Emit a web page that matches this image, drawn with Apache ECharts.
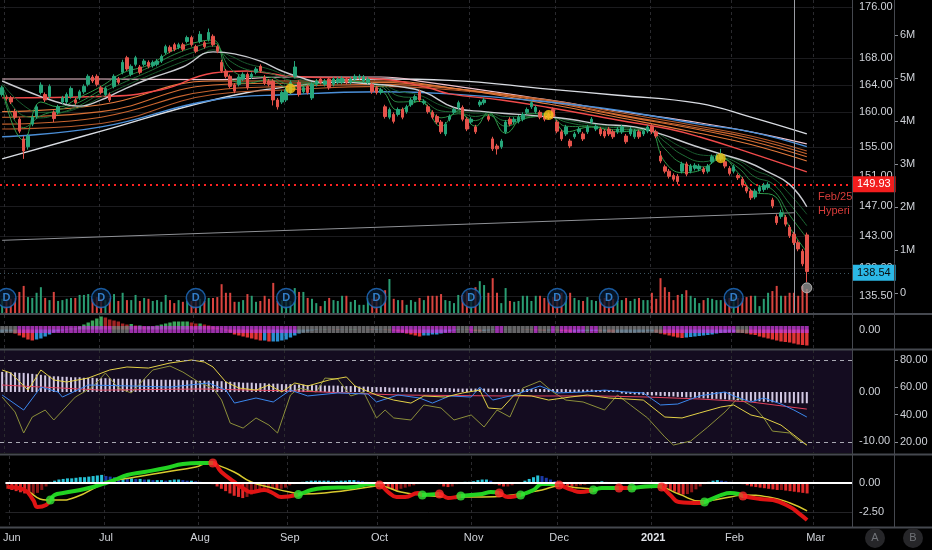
<!DOCTYPE html>
<html><head><meta charset="utf-8">
<script src="https://cdn.jsdelivr.net/npm/echarts@6/dist/echarts.min.js"></script>
<style>html,body{margin:0;padding:0;background:#000;}#c{width:932px;height:550px;}</style>
</head><body><div id="c"></div>
<script>
// ---------------- DATA ----------------
const holidays = ['2020-07-03','2020-09-07','2020-11-26','2020-12-25','2021-01-01','2021-01-18','2021-02-15'];
const firstDate = '2020-05-29';
const futureSlots = 10;

// [open, close, low, high]
const candles = [
[162.6,163.6,162.3,163.9],[162.2,162.0,161.7,162.5],[162.1,161.5,161.2,162.4],[160.1,159.3,159.0,160.5],[159.0,157.3,157.0,159.3],
[156.2,154.5,153.4,156.6],[155.1,156.6,154.7,156.9],[158.3,159.3,158.0,159.6],[159.4,160.8,159.1,161.1],[162.9,164.0,162.6,164.4],
[162.6,161.8,161.5,162.9],[162.3,163.8,162.0,164.1],[160.0,159.1,158.6,160.3],[160.0,160.8,159.7,161.1],[161.5,162.1,161.2,162.4],
[161.5,162.6,161.2,162.9],[162.3,163.5,162.0,163.8],[161.8,161.4,161.1,162.1],[162.1,163.0,161.8,163.3],[163.0,163.8,162.7,164.1],
[164.1,165.3,163.8,165.6],[165.2,164.6,164.3,165.5],[165.3,164.1,163.8,165.6],[163.6,162.9,162.6,163.9],[162.6,163.5,162.3,163.8],
[162.6,161.8,161.5,162.9],[163.8,165.3,163.5,165.6],[164.9,164.4,164.1,165.2],[165.9,167.4,165.6,167.8],[168.1,166.4,166.1,168.4],
[165.6,166.8,165.3,167.1],[167.1,168.1,166.8,168.4],[166.7,165.9,165.6,167.0],[167.1,167.6,166.8,167.9],[167.4,166.8,166.5,167.7],
[166.9,167.4,166.6,167.7],[167.1,167.6,166.8,167.9],[167.6,168.3,167.3,168.6],[168.9,169.8,168.6,170.1],[169.7,169.1,168.8,170.0],
[170.1,169.4,169.1,170.4],[169.7,170.1,169.4,170.4],[170.1,169.4,169.1,170.4],[170.6,171.2,170.3,171.5],[171.2,170.1,169.8,171.5],
[169.8,169.1,168.8,170.1],[170.6,171.7,170.3,172.2],[170.4,169.8,169.5,170.7],[170.9,172.0,170.6,172.6],[171.4,170.1,169.8,171.7],
[169.8,169.1,168.8,170.1],[167.4,166.1,165.8,167.8],[166.1,165.3,165.0,166.4],[165.3,163.8,163.5,165.6],[164.0,163.1,162.8,164.3],
[164.1,165.2,163.8,165.5],[164.9,165.6,164.6,165.9],[165.6,163.6,163.3,165.9],[165.2,165.6,164.9,165.9],[165.9,166.4,165.6,166.7],
[166.8,166.1,165.8,167.1],[165.2,164.3,164.0,165.5],[164.6,164.1,163.8,164.9],[164.6,161.8,161.0,164.9],[161.8,160.8,160.4,162.1],
[161.5,162.9,161.2,163.2],[161.8,163.3,161.5,163.6],[162.9,164.4,162.6,164.7],[165.3,166.7,165.0,167.6],[164.4,162.6,162.3,164.7],
[163.0,163.6,162.7,163.9],[163.8,162.9,162.6,164.1],[162.1,164.1,161.8,164.4],[164.1,164.6,163.8,164.9],[164.9,164.4,164.1,165.2],
[164.1,164.6,163.8,164.9],[164.9,163.6,163.3,165.2],[164.1,164.9,163.8,165.2],[164.4,164.9,164.1,165.2],[164.4,165.0,164.1,165.3],
[164.9,164.4,164.1,165.2],[164.4,164.9,164.1,165.2],[164.9,165.3,164.6,165.6],[165.1,165.3,164.8,165.6],[164.6,165.2,164.3,165.5],
[164.4,164.9,164.1,165.2],[164.1,163.0,162.7,164.4],[163.6,162.9,162.6,163.9],[162.9,163.3,162.6,163.6],[160.8,159.4,159.1,161.1],
[159.3,160.4,159.0,160.7],[159.7,158.7,158.4,160.0],[159.7,160.4,159.4,160.7],[160.4,159.3,159.0,160.7],[160.1,160.8,159.8,161.1],
[161.1,161.8,160.8,162.1],[161.8,162.3,161.5,162.6],[163.0,161.8,161.5,163.3],[161.4,161.6,161.1,161.9],[160.8,160.1,159.8,161.1],
[160.0,159.3,159.0,160.3],[159.4,158.6,158.3,159.7],[158.6,157.2,156.9,158.9],[156.9,158.3,156.6,158.6],[159.0,159.4,158.7,159.7],
[160.0,160.4,159.7,160.7],[160.7,161.4,160.4,161.7],[160.7,159.0,158.7,161.0],[159.0,157.6,157.3,159.3],[158.6,159.0,158.3,159.3],
[157.9,157.2,156.9,158.2],[161.1,161.5,160.8,161.8],[161.4,161.8,161.1,162.1],[159.4,159.0,158.7,159.7],[156.2,154.8,154.5,156.5],
[155.2,154.8,154.0,155.5],[155.1,155.9,154.8,156.2],[157.2,158.6,156.9,158.9],[159.0,158.3,158.0,159.3],[158.6,159.0,158.3,159.3],
[158.7,159.3,158.4,159.6],[159.0,159.7,158.7,160.0],[160.0,160.4,159.7,160.7],[160.8,161.4,160.5,161.7],[160.1,160.7,159.8,161.0],
[160.0,159.3,159.0,160.3],[159.4,159.0,158.7,159.7],[159.7,159.3,159.0,160.0],[160.4,159.4,159.1,160.7],[158.6,157.3,157.0,158.9],
[157.2,156.2,155.9,157.5],[156.9,157.9,156.6,158.2],[155.9,155.2,154.9,156.2],[156.5,156.9,156.2,157.2],[157.2,157.6,156.9,157.9],
[156.9,156.2,155.9,157.2],[157.2,157.9,156.9,158.2],[158.6,159.0,158.3,159.3],[157.6,158.0,157.3,158.3],[157.6,156.9,156.6,157.9],
[157.3,156.6,156.3,157.6],[157.6,156.9,156.6,157.9],[157.2,156.5,156.2,157.5],[157.2,157.6,156.9,157.9],[157.2,157.9,156.9,158.2],
[156.6,155.8,155.5,156.9],[156.9,157.6,156.6,157.9],[156.5,157.3,156.2,157.6],[157.2,156.5,156.2,157.5],[156.9,157.3,156.6,157.6],
[157.3,157.9,157.0,158.2],[158.0,157.2,156.9,158.3],[157.2,156.6,156.3,157.5],[153.8,153.1,152.8,154.5],[152.3,151.7,151.4,152.6],
[151.7,151.0,150.7,152.0],[151.1,150.6,150.3,151.4],[151.0,150.3,149.9,151.3],[151.7,152.7,151.4,153.0],[152.7,151.3,151.0,153.0],
[151.7,152.4,151.4,152.7],[152.1,152.5,151.8,152.8],[152.0,152.4,151.7,152.7],[152.0,151.6,151.3,152.3],[151.7,152.4,151.4,152.7],
[153.0,153.7,152.7,154.0],[153.4,153.8,153.1,154.1],[153.4,154.0,153.1,154.8],[153.0,152.4,152.1,153.3],[152.1,151.4,151.1,152.4],
[151.7,152.3,151.4,152.6],[151.1,150.8,150.5,151.4],[150.6,149.8,149.5,150.9],[149.5,149.0,148.7,149.8],[149.0,148.1,147.8,149.3],
[148.2,149.0,147.9,149.3],[149.0,149.5,148.7,149.8],[149.2,149.8,148.9,150.1],[149.5,149.9,149.2,150.2],[147.8,147.0,146.7,148.1],
[145.6,144.8,144.5,145.9],[145.6,146.1,145.3,146.5],[145.5,144.6,144.3,145.8],[144.2,143.1,142.8,144.5],[143.3,142.2,141.9,143.6],
[142.2,141.4,141.1,142.5],[141.1,139.5,139.2,141.4],[143.2,138.54,137.2,143.5]
];

// volume, millions of shares
const volumeM = [
.33,.28,.33,.35,.49,.63,.37,.35,.47,.60, .35,.30,.49,.28,.30,.33,.35,.35,.42,.42,
.44,.33,.37,.33,.30,.35,.44,.28,.47,.30, .30,.42,.28,.35,.33,.28,.30,.26,.42,.30,
.23,.30,.26,.28,.28,.30,.33,.28,.35,.35, .37,.67,.47,.47,.26,.26,.30,.44,.40,.26,
.28,.40,.33,.70,.28,.30,.33,.28,.58,.49, .49,.35,.33,.23,.16,.28,.35,.30,.28,.40,
.40,.26,.30,.19,.19,.35,.33,.37,.42,.53, .79,.33,.30,.30,.19,.30,.26,.35,.30,.40,
.40,.40,.44,.30,.28,.23,.42,.42,.51,.47, .60,.74,.65,.47,.81,.47,.23,.58,.28,.26,
.28,.40,.40,.28,.40,.40,.35,.33,.37,.42, .47,.40,.47,.35,.30,.28,.37,.30,.28,.33,
.35,.30,.33,.28,.30,.35,.28,.33,.35,.30, .30,.47,.33,.81,.60,.49,.30,.42,.44,.53,
.40,.35,.23,.30,.35,.33,.30,.30,.33,.35, .37,.35,.35,.37,.40,.40,.16,.33,.47,.51,
.63,.40,.40,.47,.47,.40,.63,.56
];

const priceTicks = [176, 168, 164, 160, 155, 151, 147, 143, 139, 135.5];
const volumeTicksM = [0, 1, 2, 3, 4, 5, 6];
const refLevel = 149.93;
const lastClose = 138.54;
const crosshairIndex = 184;
const trendLine = [[0, 142.5], [184, 146.1]];
const signalDots = [[67, 163.5], [127, 159.6], [167, 153.5]];
const lastMarker = [187, 136.5];
const dividendIdx = [1, 23, 45, 66, 87, 109, 129, 141, 170];
const noteLines = ['Feb/25', 'Hyperinflation'];

// moving averages [index, price]
const maSlowWhite = [[0,153.4],[23,157.3],[49,161.8],[67,163.8],[88,164.9],[104,164.7],[127,163.4],[143,162.5],[162,161.3],[174,159.3],[187,156.9]];
const maPink = [[0,164.9],[23,164.9],[49,164.8],[67,165.2],[88,165.2],[99,164.4],[127,161.8],[143,160.2],[162,158.5],[174,157.2],[187,155.5]];
const maBlue = [[0,156.5],[23,157.9],[49,161.8],[67,162.6],[88,163.0],[104,162.7],[127,161.5],[143,160.3],[162,158.3],[174,157.2],[187,155.1]];
const maRed = [[0,162.1],[23,162.3],[37,163.3],[49,165.8],[57,166.1],[67,165.3],[88,164.9],[99,163.6],[104,162.7],[116,161.8],[127,160.7],[143,158.9],[155,157.6],[162,156.5],[174,154.2],[187,151.6]];
const maOrange1 = [[0,160.1],[23,161.1],[49,164.6],[67,164.6],[88,164.6],[104,163.6],[127,161.2],[143,159.3],[162,157.0],[174,155.4],[187,153.1]];
const maOrange2 = [[0,159.3],[23,160.1],[49,164.0],[67,164.3],[88,164.4],[104,163.6],[127,161.5],[143,159.6],[162,157.5],[174,155.9],[187,153.7]];
const maOrange3 = [[0,158.3],[23,159.3],[49,163.2],[67,163.8],[88,164.1],[104,163.5],[127,161.7],[143,159.7],[162,157.7],[174,156.3],[187,154.1]];
const maOrange4 = [[0,157.6],[23,158.4],[49,162.6],[67,163.3],[88,163.8],[104,163.3],[127,161.8],[143,160.0],[162,158.0],[174,156.6],[187,154.5]];
const maWhiteFast = [[0,164.6],[9,162.3],[15,161.1],[18,160.9],[23,161.8],[27,163.0],[34,164.9],[42,166.7],[49,169.0],[54,168.7],[60,167.6],[65,166.1],[69,165.2],[74,164.4],[79,164.4],[87,164.1],[92,163.8],[98,163.0],[105,160.7],[112,160.1],[120,159.7],[126,159.4],[132,159.0],[139,158.3],[147,157.9],[153,156.9],[161,155.2],[167,154.1],[173,153.0],[178,151.6],[183,149.9],[187,146.9]];
const ribbonIdx = [0,5,9,13,18,23,28,34,40,46,49,53,57,62,67,72,80,88,92,97,102,106,110,113,117,122,127,131,137,143,150,154,158,163,167,171,175,179,183,187];
const green1 = [163.4,156.0,161.5,160.8,162.2,163.8,165.8,167.0,169.3,170.6,170.8,165.0,164.3,164.8,163.5,164.1,164.6,163.3,160.3,161.6,158.0,160.2,158.0,160.0,157.0,159.8,159.8,157.2,157.9,157.2,157.5,153.0,151.5,152.0,153.6,151.5,148.8,148.5,144.2,141.0];
const green2 = [163.6,157.8,159.5,160.3,161.5,163.3,165.0,166.6,168.6,170.0,170.4,166.5,165.3,165.2,164.1,164.2,164.5,163.8,161.5,161.6,159.2,159.8,158.8,159.6,158.0,159.2,159.7,158.0,157.9,157.5,157.5,154.8,152.8,152.3,153.4,152.2,149.9,149.2,145.8,142.8];
const green3 = [163.9,159.5,159.2,159.8,161.0,162.8,164.3,166.0,167.8,169.3,169.9,167.6,166.3,165.8,164.7,164.4,164.5,164.0,162.4,162.0,160.2,160.0,159.4,159.7,158.8,159.2,159.5,158.6,158.0,157.8,157.6,155.8,154.0,153.0,153.5,152.8,150.9,150.0,147.3,144.4];
const green4 = [164.2,161.0,160.0,160.0,160.7,162.2,163.7,165.4,167.0,168.5,169.3,168.4,167.2,166.4,165.2,164.6,164.4,164.1,163.1,162.5,161.0,160.3,159.9,159.9,159.4,159.4,159.4,158.9,158.3,158.0,157.7,156.4,155.0,153.9,153.8,153.2,151.8,150.8,148.6,145.9];

// squeeze momentum
const squeezeMom = [
-0.3,-0.2,-0.2,-0.4,-0.6,-0.8,-1.0,-1.1,-1.0,-0.9,
-0.7,-0.5,-0.3,-0.2,-0.1,0.05,0.1,0.1,0.3,0.5,
0.7,0.9,1.1,1.3,1.2,1.0,0.9,0.8,0.6,0.5,
0.55,0.4,0.4,0.3,0.3,0.3,0.4,0.5,0.6,0.7,
0.8,0.8,0.8,0.8,0.7,0.6,0.6,0.5,0.4,0.3,
0.2,0.1,-0.1,-0.3,-0.5,-0.6,-0.7,-0.8,-0.9,-1.0,
-1.1,-1.1,-1.2,-1.2,-1.2,-1.1,-1.0,-0.8,-0.6,-0.4,
-0.3,-0.2,-0.1,-0.05,0.03,0.05,0.03,-0.03,-0.05,-0.03,
0.03,0.05,0.05,0.03,0,-0.03,-0.05,-0.05,-0.03,-0.05,
-0.08,-0.1,-0.2,-0.3,-0.4,-0.5,-0.6,-0.7,-0.6,-0.6,
-0.5,-0.5,-0.4,-0.3,-0.2,-0.1,-0.05,-0.03,-0.05,-0.1,
-0.15,-0.2,-0.15,-0.1,-0.05,-0.03,0.02,0.03,0.03,0.02,
0.01,-0.02,-0.04,-0.06,-0.08,-0.1,-0.12,-0.1,-0.08,-0.1,
-0.15,-0.2,-0.25,-0.25,-0.2,-0.2,-0.15,-0.15,-0.15,-0.2,
-0.2,-0.25,-0.3,-0.3,-0.3,-0.3,-0.3,-0.3,-0.25,-0.25,
-0.2,-0.2,-0.3,-0.4,-0.5,-0.6,-0.7,-0.8,-0.85,-0.8,
-0.75,-0.7,-0.65,-0.6,-0.55,-0.5,-0.4,-0.35,-0.3,-0.25,
-0.25,-0.3,-0.35,-0.4,-0.5,-0.55,-0.7,-0.8,-0.9,-1.0,
-1.1,-1.2,-1.25,-1.3,-1.4,-1.5,-1.55,-1.6
];
// squeeze state runs [from, to, on]
const squeezeRuns = [[0,3,0],[4,25,1],[26,29,0],[30,68,1],[69,90,0],[91,105,1],[106,108,0],[109,109,1],[110,114,0],[115,116,1],[117,123,0],[124,124,1],[125,127,0],[128,128,1],[129,129,0],[130,135,1],[136,136,0],[137,138,1],[139,153,0],[154,170,1],[171,173,0],[174,187,1]];

// oscillator panel
const oscHist = [
4.1,4.1,4.0,4.0,3.9,3.9,3.8,3.7, 3.6,3.5,3.4,3.3,3.2,3.2,3.1,3.1,
3.0,3.0,3.0,2.9,2.9,2.9,2.8,2.8, 2.8,2.8,2.7,2.7,2.7,2.7,2.6,2.6,
2.6,2.6,2.6,2.6,2.5,2.5,2.5,2.5, 2.5,2.5,2.4,2.4,2.4,2.4,2.3,2.3,
2.3,2.3,2.2,2.2,2.1,2.1,2.0,2.0, 1.9,1.9,1.9,1.8,1.8,1.8,1.7,1.7,
1.7,1.6,1.6,1.6,1.5,1.5,1.5,1.4, 1.4,1.4,1.4,1.3,1.3,1.3,1.3,1.2,
1.2,1.2,1.2,1.1,1.1,1.1,1.0,1.0, 1.0,1.0,0.9,0.9,0.9,0.9,0.9,0.8,
0.8,0.8,0.8,0.8,0.8,0.8,0.8,0.8, 0.8,0.7,0.7,0.7,0.7,0.7,0.7,0.7,
0.7,0.7,0.7,0.7,0.7,0.6,0.6,0.6, 0.6,0.6,0.6,0.6,0.6,0.6,0.6,0.6,
0.6,0.6,0.6,0.6,0.5,0.5,0.5,0.5, 0.5,0.5,0.4,0.4,0.4,0.3,0.3,0.3,
-0.3,-0.4,-0.4,-0.5,-0.5,-0.6,-0.6,-0.7, -0.7,-0.8,-0.8,-0.9,-0.9,-1.0,-1.0,-1.1,
-1.1,-1.2,-1.2,-1.3,-1.3,-1.4,-1.4,-1.5, -1.5,-1.6,-1.6,-1.7,-1.7,-1.8,-1.8,-1.9,
-1.9,-2.0,-2.0,-2.1,-2.1,-2.2,-2.2,-2.2, -2.3,-2.3,-2.3,-2.3
];
const oscYellow = [[0,72.7],[2,70.5],[6,58.0],[9,72.7],[12,65.4],[15,63.9],[20,66.8],[25,72.7],[29,74.9],[34,74.1],[39,77.8],[44,80.0],[47,78.5],[49,74.9],[52,63.9],[55,59.5],[59,58.0],[62,61.7],[65,56.6],[68,63.2],[71,61.0],[76,65.4],[80,67.6],[82,61.0],[87,54.4],[91,50.7],[95,48.5],[98,53.7],[103,52.9],[107,55.9],[111,58.0],[113,44.9],[116,44.1],[119,54.4],[123,53.7],[127,50.7],[132,52.9],[136,54.4],[141,52.2],[145,51.5],[149,50.7],[154,38.3],[158,37.6],[162,41.2],[167,45.6],[170,47.1],[174,39.8],[177,37.6],[181,32.4],[184,25.1],[187,17.8]];
const oscBlue = [[0,54.4],[5,43.4],[9,60.2],[13,56.6],[14,52.9],[20,61.7],[30,61.0],[39,60.2],[48,63.2],[52,58.0],[54,48.5],[59,52.2],[63,49.3],[67,58.0],[71,53.7],[78,55.9],[85,55.1],[87,49.3],[92,54.4],[97,52.2],[100,48.5],[104,53.7],[109,52.9],[111,60.2],[114,50.7],[119,54.4],[125,61.0],[129,55.9],[135,56.6],[140,58.0],[145,56.6],[149,55.9],[153,47.1],[157,47.8],[162,53.7],[168,56.6],[170,53.7],[174,49.3],[177,52.2],[181,47.8],[184,43.4],[187,38.3]];
const oscOlive = [[0,52.9],[3,42.0],[5,26.6],[7,38.3],[10,43.4],[12,36.1],[17,52.9],[21,60.2],[24,70.5],[27,59.5],[30,55.9],[35,72.7],[39,75.6],[42,71.2],[46,63.2],[49,59.5],[51,50.7],[53,33.9],[56,30.2],[59,37.6],[62,32.4],[64,26.6],[67,54.4],[69,59.5],[73,56.6],[75,66.8],[78,66.1],[81,53.7],[84,56.6],[87,37.6],[89,43.4],[91,37.6],[95,36.1],[98,47.1],[102,44.9],[105,36.1],[109,39.8],[112,31.0],[115,43.4],[118,38.3],[121,59.5],[125,64.6],[128,56.6],[131,50.7],[135,49.3],[140,43.4],[143,54.4],[146,47.1],[150,37.6],[154,23.7],[156,17.8],[160,20.7],[164,31.0],[168,42.0],[171,52.2],[175,44.9],[177,37.6],[179,28.0],[183,26.6],[185,21.5],[187,17.8]];
const oscRed = [[0,61.7],[23,58.0],[46,58.8],[69,57.3],[92,54.4],[116,53.7],[139,53.7],[150,52.9],[162,51.5],[174,49.3],[187,44.1]];
const oscLeftTicks = [0, -10];
const oscRightTicks = [20, 40, 60, 80];
const oscBands = [80, 20];

// MACD panel
const macdHist = [
-0.5,-0.6,-0.7,-0.8,-0.9,-1.0,-0.95,-0.85,-0.6,-0.3,
0.1,0.2,0.3,0.35,0.4,0.4,0.45,0.5,0.5,0.55,
0.6,0.65,0.7,0.6,0.55,0.5,0.45,0.45,0.4,0.4,
0.35,0.35,0.3,0.3,0.25,0.25,0.25,0.2,0.25,0.3,
0.3,0.25,0.2,0.2,0.15,0.1,0.05,0.02,-0.1,-0.3,
-0.5,-0.7,-0.9,-1.1,-1.2,-1.3,-1.2,-1.0,-0.8,-0.6,
-0.5,-0.5,-0.45,-0.5,-0.5,-0.4,-0.2,-0.1,0.05,0.1,
0.15,0.2,0.2,0.2,0.2,0.2,0.15,0.15,0.2,0.2,
0.25,0.25,0.2,0.15,0.1,0.05,0.02,-0.1,-0.3,-0.45,
-0.55,-0.6,-0.5,-0.4,-0.3,-0.2,-0.1,0.05,0.05,0.02,
-0.02,-0.1,-0.3,-0.35,-0.3,-0.1,0.05,0.1,0.1,0.15,
0.25,0.3,0.3,0.2,-0.1,-0.2,-0.3,-0.3,-0.2,-0.05,
0.05,0.2,0.35,0.5,0.65,0.6,0.45,0.3,0.15,0.05,
-0.15,-0.25,-0.3,-0.3,-0.2,-0.15,-0.05,0.05,0.1,0.15,
0.1,0.05,0.02,-0.02,0.02,0.03,0.05,0.05,0.03,0.02,
0.01,-0.02,-0.05,-0.2,-0.4,-0.6,-0.75,-0.9,-1.0,-0.95,
-0.8,-0.55,-0.3,-0.1,0.1,0.2,0.25,0.2,0.15,0.1,
0.05,0.02,-0.1,-0.2,-0.3,-0.35,-0.4,-0.45,-0.5,-0.55,
-0.6,-0.6,-0.65,-0.7,-0.75,-0.8,-0.85,-0.9
];
const macdLine = [[0,-0.34],[4,-0.60],[6,-1.47],[7,-2.07],[9,-1.90],[10,-1.47],[11,-1.03],[13,-0.86],[17,-0.60],[20,-0.34],[23,0],[25,0.26],[28,0.69],[32,0.95],[37,1.29],[41,1.64],[45,1.72],[48,1.72],[50,0.95],[53,0.09],[55,-0.43],[57,-0.78],[60,-0.60],[62,-0.86],[64,-1.21],[68,-1.0],[71,-0.60],[74,-0.43],[81,-0.34],[85,-0.09],[87,-0.17],[89,-0.78],[91,-1.21],[93,-1.21],[96,-0.86],[97,-1.03],[101,-0.95],[103,-1.29],[105,-1.21],[106,-1.12],[111,-0.95],[113,-0.78],[115,-0.86],[117,-1.21],[119,-1.12],[120,-1.03],[123,-0.60],[125,-0.09],[128,-0.09],[129,-0.17],[132,-0.60],[134,-0.78],[137,-0.60],[139,-0.43],[143,-0.43],[146,-0.43],[148,-0.34],[152,-0.26],[153,-0.34],[155,-1.03],[157,-1.64],[162,-1.72],[163,-1.64],[167,-1.03],[169,-0.86],[171,-0.95],[172,-1.12],[176,-1.38],[179,-1.47],[183,-2.07],[185,-2.59],[187,-3.19]];
const macdSignal = [[0,-0.34],[4,-0.60],[9,-1.47],[12,-1.47],[16,-1.21],[23,0],[30,0.52],[37,0.95],[44,1.38],[47,1.72],[49,1.55],[53,0.95],[57,0.09],[62,-0.43],[66,-0.78],[69,-0.95],[76,-0.78],[83,-0.43],[87,-0.26],[92,-0.78],[97,-1.03],[104,-1.21],[111,-1.21],[118,-1.03],[125,-0.60],[129,-0.26],[134,-0.43],[139,-0.52],[146,-0.43],[152,-0.34],[157,-0.95],[162,-1.55],[169,-1.21],[172,-1.03],[178,-1.21],[183,-1.72],[187,-2.41]];
// crossings [index, value, 1=up / 0=down]
const macdCrosses = [[10,-1.47,1],[48,1.72,0],[68,-1.0,1],[87,-0.17,0],[97,-1.03,1],[101,-0.95,0],[106,-1.12,1],[115,-0.86,0],[120,-1.03,1],[129,-0.17,0],[137,-0.60,1],[143,-0.43,0],[146,-0.43,1],[153,-0.34,0],[163,-1.64,1],[172,-1.12,0]];
const macdTicks = [0, -2.5];

// ---------------- BUILD ----------------
function buildDates(n) {
  const out = []; let t = Date.parse(firstDate + 'T00:00:00Z');
  while (out.length < n) {
    const d = new Date(t), dow = d.getUTCDay(), s = d.toISOString().slice(0, 10);
    if (dow !== 0 && dow !== 6 && holidays.indexOf(s) < 0) out.push(s);
    t += 86400000;
  }
  return out;
}
const dates = buildDates(candles.length + futureSlots);
const monthStart = dates.map((d, i) => i > 0 && d.slice(5, 7) !== dates[i - 1].slice(5, 7));
const monthNames = ['Jan','Feb','Mar','Apr','May','Jun','Jul','Aug','Sep','Oct','Nov','Dec'];

const FONT = 'Liberation Sans, Arial, sans-serif';
const LABEL = '#cfd2d8';
const UP = '#26a67a', DOWN = '#e5534b';
const LN = Math.log;

const chart = echarts.init(document.getElementById('c'), null, {renderer: 'canvas'});

const grids = [
  {left: 0, right: 80, top: 0, height: 313},
  {left: 0, right: 80, top: 315, height: 33},
  {left: 0, right: 80, top: 350, height: 103, show: true, backgroundColor: '#140c20', borderWidth: 0},
  {left: 0, right: 80, top: 456, height: 70}
];

function xAx(i, labels) {
  return {
    type: 'category', gridIndex: i, data: dates, boundaryGap: true,
    axisLine: {show: false}, axisTick: {show: false},
    axisLabel: labels ? {
      show: true, interval: (idx) => monthStart[idx], color: LABEL, fontSize: 11, margin: 6, fontFamily: FONT,
      formatter: (v) => { const m = +v.slice(5, 7); return m === 1 ? '{y|' + v.slice(0, 4) + '}' : monthNames[m - 1]; },
      rich: {y: {fontWeight: 'bold', color: '#e0e3e8', fontSize: 11, fontFamily: FONT}}
    } : {show: false},
    splitLine: {show: true, interval: (idx) => monthStart[idx], lineStyle: {color: '#2a2a2e', type: [3, 3], width: 1}}
  };
}

function yLabel(ticks, fmt, margin) {
  return {show: true, customValues: ticks, formatter: fmt, color: LABEL, fontSize: 11, margin: margin || 7, fontFamily: FONT};
}

const priceTicksLn = priceTicks.map(LN);
const yAxes = [
  { // 0 price (log)
    type: 'value', gridIndex: 0, position: 'right', min: LN(133.43), max: LN(177.12),
    axisLine: {show: false}, axisTick: {show: false, customValues: priceTicksLn},
    axisLabel: yLabel(priceTicksLn, (v) => Math.exp(v).toFixed(2)),
    splitLine: {show: true, lineStyle: {color: '#1b1b1e', width: 1}}
  },
  { // 1 volume (hidden)
    type: 'value', gridIndex: 0, min: 0, max: 7.279, show: false
  },
  { // 2 volume labels
    type: 'value', gridIndex: 0, position: 'right', offset: 42, min: -0.465, max: 6.814,
    axisLine: {show: false},
    axisTick: {show: true, customValues: volumeTicksM, length: 4, lineStyle: {color: '#8a8d94'}},
    axisLabel: yLabel(volumeTicksM, (v) => v === 0 ? '0' : v + 'M', 6),
    splitLine: {show: false}
  },
  { // 3 squeeze
    type: 'value', gridIndex: 1, position: 'right', min: -1.85, max: 1.45,
    axisLine: {show: false}, axisTick: {show: false, customValues: [0]},
    axisLabel: yLabel([0], (v) => v.toFixed(2)), splitLine: {show: false}
  },
  { // 4 oscillator left scale
    type: 'value', gridIndex: 2, position: 'right', min: -12.45, max: 8.57,
    axisLine: {show: false}, axisTick: {show: false, customValues: oscLeftTicks},
    axisLabel: yLabel(oscLeftTicks, (v) => v.toFixed(2)), splitLine: {show: false}
  },
  { // 5 oscillator right scale
    type: 'value', gridIndex: 2, position: 'right', offset: 42, min: 11.97, max: 87.32,
    axisLine: {show: false},
    axisTick: {show: true, customValues: oscRightTicks, length: 4, lineStyle: {color: '#8a8d94'}},
    axisLabel: yLabel(oscRightTicks, (v) => v.toFixed(2), 6), splitLine: {show: false}
  },
  { // 6 macd
    type: 'value', gridIndex: 3, position: 'right', min: -3.707, max: 2.328,
    axisLine: {show: false}, axisTick: {show: false, customValues: macdTicks},
    axisLabel: yLabel(macdTicks, (v) => v.toFixed(2)),
    splitLine: {show: true, lineStyle: {color: '#232326'}}
  }
];

function priceLine(pts, color, width, z) {
  return {type: 'line', xAxisIndex: 0, yAxisIndex: 0, data: pts.map(p => [p[0], LN(p[1])]),
    symbol: 'none', smooth: 0.45, lineStyle: {color: color, width: width}, silent: true, z: z || 3};
}
function ribbon(vals) { return ribbonIdx.map((k, i) => [k, vals[i]]); }
function momColor(arr, i, c) {
  const v = arr[i], p = i > 0 ? arr[i - 1] : v;
  if (v >= 0) return v >= p ? c[0] : c[1];
  return v < p ? c[2] : c[3];
}

const series = [];
// volume
series.push({type: 'bar', xAxisIndex: 0, yAxisIndex: 1, barWidth: 2, silent: true, z: 1,
  data: volumeM.map((v, i) => ({value: v, itemStyle: {color: candles[i][1] >= candles[i][0] ? '#2a9d73' : '#d9443f'}}))});
// dividend markers
series.push({type: 'scatter', xAxisIndex: 0, yAxisIndex: 1, silent: true, z: 2,
  data: dividendIdx.map(k => [k, 0.35]), symbol: 'circle', symbolSize: 19,
  itemStyle: {color: '#07182c', borderColor: '#1f6fc4', borderWidth: 1.5},
  label: {show: true, position: 'inside', formatter: 'D', color: '#3d97f0', fontSize: 11, fontWeight: 'bold', fontFamily: FONT}});
// trend line
series.push(Object.assign(priceLine(trendLine, '#8f9196', 1, 2), {smooth: false}));
// slow ribbon
series.push(priceLine(maSlowWhite, '#d9dce2', 1.4));
series.push(priceLine(maPink, '#efc3cf', 1.2));
series.push(priceLine(maOrange4, '#b85b2c', 1.1));
series.push(priceLine(maOrange3, '#c9652f', 1.1));
series.push(priceLine(maOrange2, '#d86f34', 1.1));
series.push(priceLine(maOrange1, '#e57a3c', 1.1));
series.push(priceLine(maBlue, '#4b8fd8', 1.4));
series.push(priceLine(maRed, '#f04a4a', 1.4));
// fast ribbon
series.push(priceLine(ribbon(green4), '#1a5a2e', 1));
series.push(priceLine(ribbon(green3), '#1f6d36', 1));
series.push(priceLine(ribbon(green2), '#27833f', 1));
series.push(priceLine(ribbon(green1), '#2f9a4a', 1));
series.push(priceLine(maWhiteFast, '#c9cbd0', 1.4));
// candles
series.push({type: 'candlestick', xAxisIndex: 0, yAxisIndex: 0, z: 5, silent: true, barWidth: 3,
  data: candles.map(c => c.map(LN)),
  itemStyle: {color: UP, color0: DOWN, borderColor: UP, borderColor0: DOWN, borderWidth: 1},
  markLine: {silent: true, symbol: 'none', animation: false, data: [
    {yAxis: LN(refLevel), lineStyle: {color: '#ff2222', width: 2, type: [2, 4]},
      label: {show: true, position: 'end', distance: 0, formatter: refLevel.toFixed(2), color: '#ffffff', backgroundColor: '#f21d1d', padding: [3, 5, 2, 5], fontSize: 11, fontFamily: FONT}},
    {yAxis: LN(lastClose), lineStyle: {color: '#3d5560', width: 1, type: [1, 3]},
      label: {show: true, position: 'end', distance: 0, formatter: lastClose.toFixed(2), color: '#0b0b0b', backgroundColor: '#2bb8e6', padding: [3, 5, 2, 5], fontSize: 11, fontFamily: FONT}},
    {xAxis: dates[crosshairIndex], lineStyle: {color: '#9a9ca3', width: 1, type: 'solid'}, label: {show: false}}
  ]}});
// signal dots
series.push({type: 'scatter', xAxisIndex: 0, yAxisIndex: 0, z: 6, silent: true, symbolSize: 10,
  data: signalDots.map(p => [p[0], LN(p[1])]), itemStyle: {color: '#f7c515'}});
series.push({type: 'scatter', xAxisIndex: 0, yAxisIndex: 0, z: 6, silent: true, symbolSize: 10,
  data: [[lastMarker[0], LN(lastMarker[1])]], itemStyle: {color: '#8e8e8e', borderColor: '#c4c4c4', borderWidth: 1}});

// squeeze panel
const sqCols = ['#3aa55a', '#a32323', '#e03434', '#2b8fd0'];
series.push({type: 'bar', xAxisIndex: 1, yAxisIndex: 3, barWidth: 3.4, silent: true, z: 2,
  data: squeezeMom.map((v, i) => ({value: v, itemStyle: {color: momColor(squeezeMom, i, sqCols)}}))});
const sqDots = [];
squeezeRuns.forEach(r => { for (let k = r[0]; k <= r[1]; k++) sqDots.push({value: [k, 0], itemStyle: {color: r[2] ? '#c13bd3' : '#7d7d80'}}); });
series.push({type: 'scatter', xAxisIndex: 1, yAxisIndex: 3, symbol: 'rect', symbolSize: [3.8, 7], silent: true, z: 3, data: sqDots});

// oscillator panel
series.push({type: 'bar', xAxisIndex: 2, yAxisIndex: 4, barWidth: 2, silent: true, z: 2,
  data: oscHist, itemStyle: {color: 'rgba(232,222,250,0.9)'}});
function oscLine(pts, color) {
  return {type: 'line', xAxisIndex: 2, yAxisIndex: 5, data: pts, symbol: 'none', smooth: false,
    lineStyle: {color: color, width: 1}, silent: true, z: 3};
}
series.push(oscLine(oscOlive, '#8c8f3a'));
series.push(oscLine(oscRed, '#e2435e'));
series.push(oscLine(oscBlue, '#3b88ee'));
const yl = oscLine(oscYellow, '#e3d147');
yl.markLine = {silent: true, symbol: 'none', animation: false, label: {show: false},
  lineStyle: {color: '#a9a9b3', type: [4, 4], width: 1}, data: oscBands.map(v => ({yAxis: v}))};
series.push(yl);

// macd panel
const mcCols = ['#26c2d6', '#1b3aa8', '#e02a2a', '#8c1616'];
series.push({type: 'bar', xAxisIndex: 3, yAxisIndex: 6, barWidth: 3, silent: true, z: 2,
  data: macdHist.map((v, i) => ({value: v, itemStyle: {color: momColor(macdHist, i, mcCols)}})),
  markLine: {silent: true, symbol: 'none', animation: false, label: {show: false},
    lineStyle: {color: '#ffffff', width: 2, type: 'solid'}, data: [{yAxis: 0}]}});
series.push({type: 'line', xAxisIndex: 3, yAxisIndex: 6, data: macdSignal, symbol: 'none', smooth: 0.5,
  lineStyle: {color: '#d8c92e', width: 1.5}, silent: true, z: 3});
const macdLineIndex = series.length;
series.push({type: 'line', xAxisIndex: 3, yAxisIndex: 6, data: macdLine, symbol: 'none', smooth: 0.45,
  lineStyle: {width: 4}, silent: true, z: 4});
series.push({type: 'scatter', xAxisIndex: 3, yAxisIndex: 6, symbolSize: 9, silent: true, z: 5,
  data: macdCrosses.map(c => ({value: [c[0], c[1]], itemStyle: {color: c[2] ? '#35e335' : '#ff2b2b'}}))});

const GREEN = '#22d322', RED = '#e01414';
const pieces = [];
let prev = -Infinity, col = RED;
macdCrosses.forEach(c => { pieces.push({gte: prev, lt: c[0], color: col}); prev = c[0]; col = c[2] ? GREEN : RED; });
pieces.push({gte: prev, lt: Infinity, color: col});

const gline = (pts, w, c) => ({type: 'polyline', shape: {points: pts}, style: {stroke: c || '#45484f', lineWidth: w}, silent: true, z: 100});

chart.setOption({
  animation: false,
  backgroundColor: '#000000',
  textStyle: {fontFamily: FONT},
  grid: grids,
  xAxis: [xAx(0, false), xAx(1, false), xAx(2, false), xAx(3, true)],
  yAxis: yAxes,
  visualMap: [{type: 'piecewise', show: false, seriesIndex: macdLineIndex, dimension: 0, pieces: pieces}],
  series: series,
  graphic: [
    gline([[0, 314], [932, 314]], 2),
    gline([[0, 349.5], [932, 349.5]], 2),
    gline([[0, 454.5], [932, 454.5]], 2),
    gline([[0, 527.5], [932, 527.5]], 2),
    gline([[852.5, 0], [852.5, 527]], 1),
    gline([[894.5, 0], [894.5, 527]], 1),
    {type: 'text', left: 818, top: 190, silent: true, z: 100,
      style: {text: noteLines.join('\n'), fill: '#d83c3a', font: '11px ' + FONT, lineHeight: 14, width: 38, overflow: 'truncate', ellipsis: ''}},
    {type: 'circle', shape: {cx: 875, cy: 538, r: 10}, style: {fill: '#262629'}, silent: true, z: 100},
    {type: 'circle', shape: {cx: 913, cy: 538, r: 10}, style: {fill: '#262629'}, silent: true, z: 100},
    {type: 'text', x: 875, y: 538, style: {text: 'A', fill: '#707378', font: '11px ' + FONT, align: 'center', verticalAlign: 'middle'}, silent: true, z: 101},
    {type: 'text', x: 913, y: 538, style: {text: 'B', fill: '#707378', font: '11px ' + FONT, align: 'center', verticalAlign: 'middle'}, silent: true, z: 101}
  ]
});
</script>
</body></html>
